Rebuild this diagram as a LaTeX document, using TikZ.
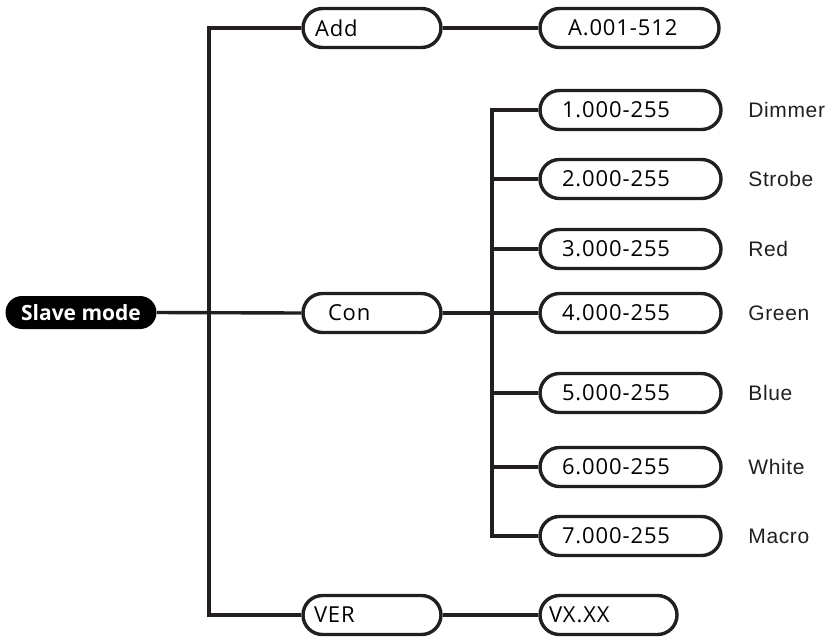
\documentclass[tikz,border=0pt]{standalone}
\usepackage{fontspec}
\setmainfont{Open Sans}
\newfontfamily\labelfont{Liberation Sans}
\definecolor{linec}{RGB}{35,31,32}
\tikzset{
  pill/.style={draw=linec, line width=1.7pt, rounded corners=9.75pt,
               minimum height=19.5pt, inner ysep=0pt, align=left,
               font=\fontsize{11}{12}\selectfont\addfontfeature{LetterSpace=4}},
  padded/.style 2 args={pill, inner xsep=#1, text width=#2},
  link/.style={draw=linec, line width=1.7pt},
}

\begin{document}
\begin{tikzpicture}[x=0.5pt,y=-0.5pt]
  \useasboundingbox (0,0) rectangle (834,638);
  % start node
  \node[fill=black, text=white, rounded corners=8.25pt, minimum width=75.5pt,
        minimum height=16.5pt, inner sep=0pt,
        font=\fontsize{10.5}{12}\selectfont\bfseries] (slave) at (81,312.5) {Slave mode};
  % first level
  \node[padded={6pt}{57pt}]   (add) at (372,28)  {Add};
  \node[padded={12.5pt}{44pt}] (con) at (372,313) {Con};
  \node[padded={5.5pt}{58pt}]  (ver) at (372,615) {VER};
  % second level
  \node[padded={14pt}{61.5pt}] (addr)   at (629.5,28)  {A.001-512};
  \node[padded={4.5pt}{59.5pt}] (verval) at (608.5,615) {VX.XX};
  \foreach \n/\y/\lbl in {1/110/Dimmer,2/179/Strobe,3/249/Red,4/313/Green,
                          5/393/Blue,6/467/White,7/536/Macro}{
    \node[padded={11pt}{68.5pt}] (ch\n) at (630.5,\y) {\n.000-255};
    \node[anchor=west, inner sep=0pt, text=linec,
          font=\labelfont\fontsize{10.5}{12}\selectfont\addfontfeature{LetterSpace=3}] (lbl\n) at (748,\y) {\lbl};
  }
  % trunk lines
  \coordinate (J) at (209,313);
  \coordinate (K) at (492,313);
  \draw[link] (slave.east) -- (con.west);
  \draw[link] (add.west) -| (J) |- (ver.west);
  \draw[link] (add.east) -- (addr.west);
  \draw[link] (ver.east) -- (verval.west);
  \draw[link] (con.east) -- (ch4.west);
  \draw[link] (ch1.west) -| (K) |- (ch7.west);
  \foreach \n in {2,3,5,6}
    \draw[link] (ch\n.west) -- (ch\n.west -| K);
\end{tikzpicture}
\end{document}
